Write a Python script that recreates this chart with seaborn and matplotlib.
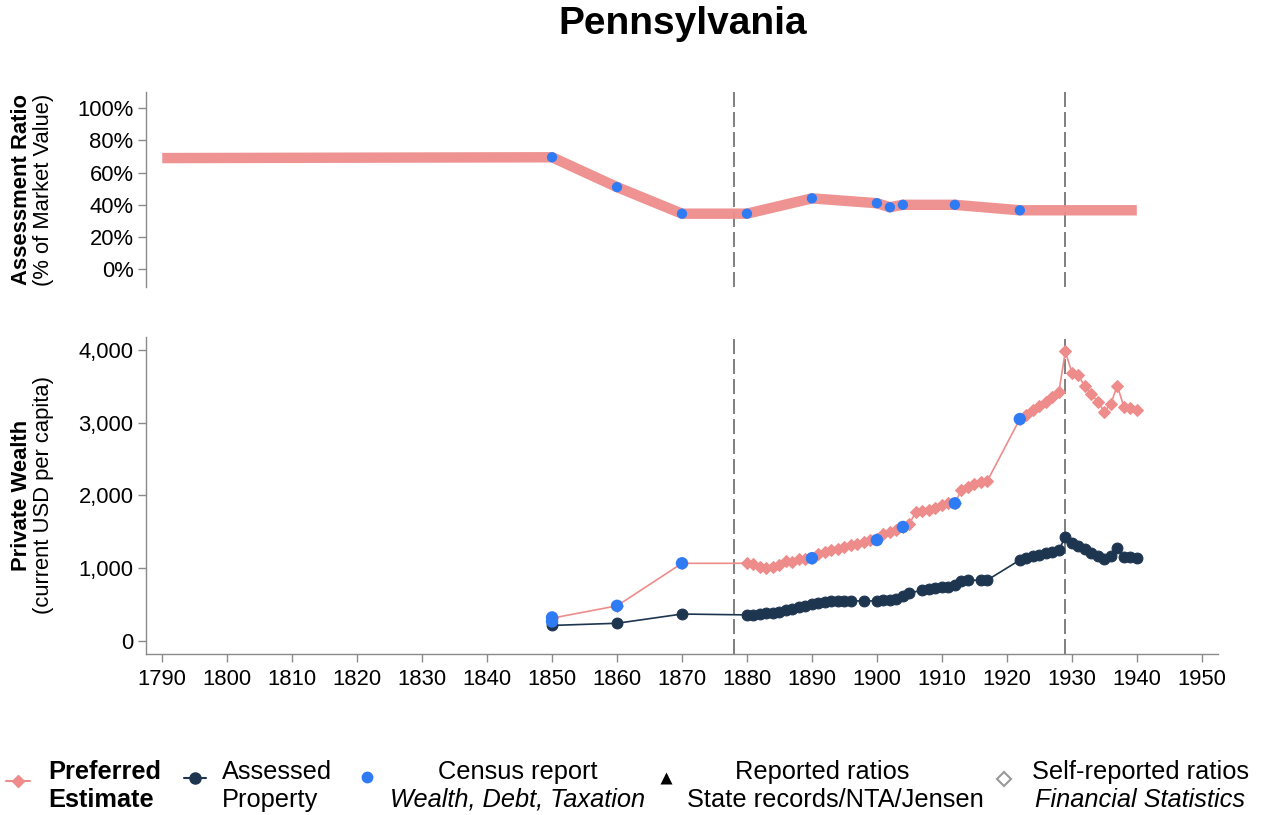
import matplotlib
matplotlib.use('Agg')
import matplotlib.pyplot as plt
import seaborn as sns
from matplotlib.ticker import FuncFormatter

sns.set_theme(style='white')
plt.rcParams['font.family'] = ['Liberation Sans', 'DejaVu Sans']
plt.rcParams['text.color'] = 'black'

# ---------------- data ----------------
# Top panel: assessment ratio (% of market value)
ratio_pref_years = [1790, 1850, 1860, 1870, 1880, 1890, 1900, 1902, 1904, 1912, 1922, 1940]
ratio_pref_vals = [69, 69.5, 51, 34.5, 34.5, 44, 41, 38.5, 40, 40, 36.6, 36.6]
ratio_census_years = [1850, 1860, 1870, 1880, 1890, 1900, 1902, 1904, 1912, 1922]
ratio_census_vals = [69.5, 51, 34.5, 34.5, 44, 41, 38.5, 40, 40, 36.6]

# Bottom panel: private wealth (current USD per capita)
pref_years = [1850, 1860, 1870,
              1880, 1881, 1882, 1883, 1884, 1885, 1886, 1887, 1888, 1889,
              1890, 1891, 1892, 1893, 1894, 1895, 1896, 1897, 1898, 1899,
              1900, 1901, 1902, 1903, 1904, 1905, 1906, 1907, 1908, 1909,
              1910, 1911, 1912, 1913, 1914, 1915, 1916, 1917,
              1922, 1923, 1924, 1925, 1926, 1927, 1928, 1929,
              1930, 1931, 1932, 1933, 1934, 1935, 1936, 1937, 1938, 1939, 1940]
pref_vals = [310, 480, 1065,
             1065, 1050, 1010, 1000, 1020, 1040, 1100, 1080, 1120, 1130,
             1140, 1190, 1220, 1250, 1260, 1290, 1310, 1330, 1360, 1390,
             1400, 1470, 1500, 1530, 1570, 1610, 1770, 1790, 1800, 1830,
             1870, 1890, 1890, 2080, 2120, 2150, 2190, 2200,
             3050, 3110, 3170, 3230, 3290, 3350, 3420, 3980,
             3690, 3650, 3500, 3390, 3290, 3150, 3260, 3510, 3220, 3200, 3180]

assessed_years = [1850, 1860, 1870,
                  1880, 1881, 1882, 1883, 1884, 1885, 1886, 1887, 1888, 1889,
                  1890, 1891, 1892, 1893, 1894, 1895, 1896, 1898,
                  1900, 1901, 1902, 1903, 1904, 1905, 1907, 1908, 1909,
                  1910, 1911, 1912, 1913, 1914, 1916, 1917,
                  1922, 1923, 1924, 1925, 1926, 1927, 1928, 1929,
                  1930, 1931, 1932, 1933, 1934, 1935, 1936, 1937, 1938, 1939, 1940]
assessed_vals = [210, 240, 367,
                 355, 360, 365, 375, 385, 400, 420, 440, 460, 480,
                 500, 515, 530, 540, 545, 548, 550, 545,
                 550, 555, 565, 580, 620, 650, 700, 705, 720,
                 735, 745, 765, 820, 835, 830, 835,
                 1110, 1140, 1160, 1180, 1200, 1220, 1245, 1430,
                 1340, 1300, 1260, 1210, 1160, 1120, 1160, 1270, 1150, 1145, 1140]

census_years = [1850, 1850, 1860, 1870, 1890, 1900, 1904, 1912, 1922]
census_vals = [320, 265, 480, 1065, 1135, 1385, 1565, 1890, 3050]

break_years = [1878, 1929]

x_ticks = list(range(1790, 1951, 10))
ratio_ticks = [0, 20, 40, 60, 80, 100]
wealth_ticks = [0, 1000, 2000, 3000, 4000]

# ---------------- style ----------------
PINK = '#EE8C8C'
DARK = '#1E3550'
BLUE = '#2F7BF4'
SPINE = '#8a8a8a'
TICKFS = 15.8

W, H = 1267, 815
fig = plt.figure(figsize=(W / 100, H / 100), dpi=100)
ax1 = fig.add_axes([146 / W, 1 - 287 / H, (1218 - 146) / W, (287 - 92) / H])
ax2 = fig.add_axes([146 / W, 1 - 654 / H, (1218 - 146) / W, (654 - 337) / H])

# top panel
sns.lineplot(x=ratio_pref_years, y=ratio_pref_vals, ax=ax1, color=PINK, lw=7.5,
             alpha=0.95, solid_capstyle='butt', solid_joinstyle='round', zorder=2)
sns.scatterplot(x=ratio_census_years, y=ratio_census_vals, ax=ax1, color=BLUE,
                s=55, edgecolor='none', zorder=3)

# bottom panel
sns.lineplot(x=pref_years, y=pref_vals, ax=ax2, color=PINK, lw=1.2, marker='D',
             markersize=6.3, markeredgecolor=PINK, markerfacecolor=PINK, zorder=2)
sns.lineplot(x=assessed_years, y=assessed_vals, ax=ax2, color=DARK, lw=1.2, marker='o',
             markersize=7.8, markeredgecolor=DARK, markerfacecolor=DARK, zorder=3)
sns.scatterplot(x=census_years, y=census_vals, ax=ax2, color=BLUE, s=80,
                edgecolor='none', zorder=4)

for ax in (ax1, ax2):
    for yr in break_years:
        ax.axvline(yr, color='#6a6a6a', lw=1.2, ls=(0, (9, 3)), zorder=1)
    ax.set_xlim(1787.5, 1952.5)
    ax.set_xlabel('')
    ax.set_ylabel('')
    for s in ax.spines.values():
        s.set_color(SPINE)
        s.set_linewidth(1.0)
    ax.spines['top'].set_visible(False)
    ax.spines['right'].set_visible(False)
    ax.tick_params(axis='both', direction='out', length=6, width=1, color=SPINE,
                   labelsize=TICKFS, labelcolor='black', pad=3)

ax1.spines['bottom'].set_visible(False)
ax1.set_ylim(-11, 110)
ax1.set_yticks(ratio_ticks)
ax1.yaxis.set_major_formatter(FuncFormatter(lambda v, p: f'{int(v)}%'))
ax1.tick_params(axis='y', left=True)
ax1.tick_params(axis='x', bottom=False, labelbottom=False)

ax2.set_ylim(-183, 4179)
ax2.set_yticks(wealth_ticks)
ax2.yaxis.set_major_formatter(FuncFormatter(lambda v, p: f'{int(v):,}'))
ax2.set_xticks(x_ticks)
ax2.tick_params(axis='y', left=True)
ax2.tick_params(axis='x', bottom=True, pad=5)

# axis titles
for ax, bold, normal in ((ax1, 'Assessment Ratio', '(% of Market Value)'),
                         (ax2, 'Private Wealth', '(current USD per capita)')):
    pos = ax.get_position()
    yc = (pos.y0 + pos.y1) / 2
    fig.text(22 / W, yc, bold, rotation=90, ha='center', va='center',
             fontsize=15.8, fontweight='bold', color='black')
    fig.text(44 / W, yc, normal, rotation=90, ha='center', va='center',
             fontsize=15.8, color='black')

fig.text(683 / W, 1 - 24 / H, 'Pennsylvania', ha='center', va='center',
         fontsize=28, fontweight='bold', color='black')

# legend (drawn in pixel space of an overlay axes)
lg = fig.add_axes([0, 0, 1, 1], facecolor='none')
lg.set_xlim(0, W)
lg.set_ylim(H, 0)
lg.axis('off')
LFS = 18.3
y1, y2, yh = 772, 800, 781
lg.plot([6, 30], [yh, yh], color=PINK, lw=1.5)
lg.plot([18], [yh], marker='D', ms=6.5, color=PINK)
lg.text(48, y1, 'Preferred', ha='left', va='center', fontsize=LFS, fontweight='bold', color='black')
lg.text(48, y2, 'Estimate', ha='left', va='center', fontsize=LFS, fontweight='bold', color='black')
lg.plot([184, 206], [yh - 3, yh - 3], color=DARK, lw=1.5)
lg.plot([195], [yh - 3], marker='o', ms=8, color=DARK)
lg.text(222, y1, 'Assessed', ha='left', va='center', fontsize=LFS, color='black')
lg.text(222, y2, 'Property', ha='left', va='center', fontsize=LFS, color='black')
lg.plot([367], [yh - 4], marker='o', ms=8.5, color=BLUE, mec='none')
lg.text(518, y1, 'Census report', ha='center', va='center', fontsize=LFS, color='black')
lg.text(518, y2, 'Wealth, Debt, Taxation', ha='center', va='center', fontsize=LFS,
        style='italic', color='black')
lg.plot([666], [yh - 3], marker='^', ms=8, color='black', mec='none')
lg.text(822, y1, 'Reported ratios', ha='center', va='center', fontsize=LFS, color='black')
lg.text(835, y2, 'State records/NTA/Jensen', ha='center', va='center', fontsize=LFS, color='black')
lg.plot([1004], [yh - 2], marker='D', ms=7, mfc='white', mec='#999999', mew=1.5)
lg.text(1140, y1, 'Self-reported ratios', ha='center', va='center', fontsize=LFS, color='black')
lg.text(1140, y2, 'Financial Statistics', ha='center', va='center', fontsize=LFS,
        style='italic', color='black')

fig.savefig('out.png', dpi=100)
